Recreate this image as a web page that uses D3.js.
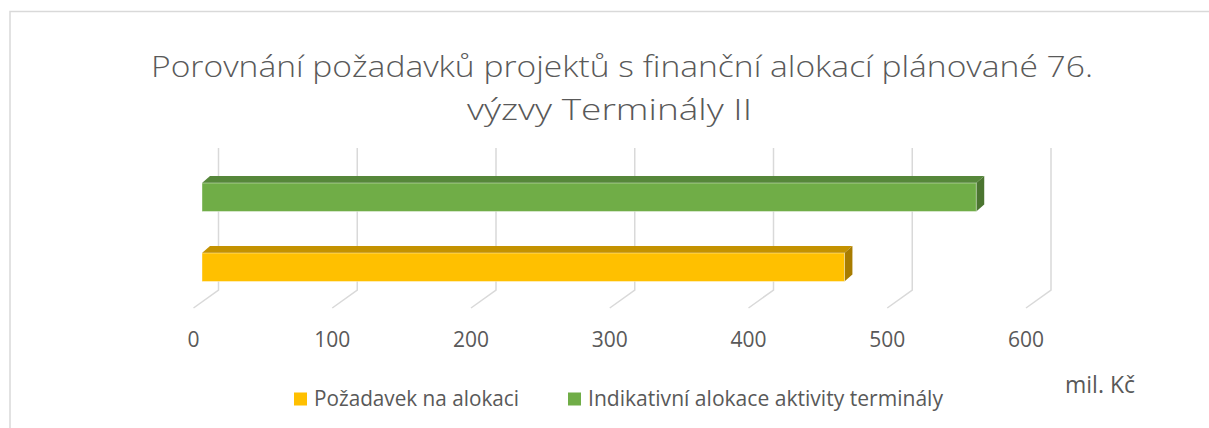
<!DOCTYPE html>
<html>
<head>
<meta charset="utf-8">
<script src="https://cdn.jsdelivr.net/npm/d3@7"></script>
<style>
  body { margin: 0; background: #fff; }
  text { font-family: "Open Sans", sans-serif; fill: #595959; }
</style>
</head>
<body>
<div id="chart"></div>
<script>
// data
var categories = ["Indikativní alokace aktivity terminály", "Požadavek na alokaci"];
var values = [558, 463];
var frontColors = ["#70ad47", "#ffc000"];
var topColors = ["#56873a", "#c49200"];
var sideColors = ["#4b7530", "#a87c00"];
var legendOrder = ["Požadavek na alokaci", "Indikativní alokace aktivity terminály"];
var legendColors = ["#ffc000", "#70ad47"];
var tickValues = [0, 100, 200, 300, 400, 500, 600];
var titleLines = ["Porovnání požadavků projektů s finanční alokací plánované 76.", "výzvy Terminály II"];
var unitLabel = "mil. Kč";

var width = 1209, height = 428;

var svg = d3.select("#chart")
    .append("svg")
    .attr("width", width)
    .attr("height", height);

// chart frame (only top and left edge visible)
svg.append("path")
    .attr("d", "M10,428 L10,11.5 L1209,11.5")
    .attr("fill", "none")
    .attr("stroke", "#d9d9d9")
    .attr("stroke-width", 1.5);

// title
var titleX = [151, 467], titleY = [77, 120], titleLen = [942, 285];
svg.selectAll(".title")
    .data(titleLines)
    .enter().append("text")
    .attr("class", "title")
    .attr("x", function (d, i) { return titleX[i]; })
    .attr("y", function (d, i) { return titleY[i]; })
    .attr("textLength", function (d, i) { return titleLen[i]; })
    .attr("lengthAdjust", "spacingAndGlyphs")
    .style("font-size", "29px")
    .style("font-weight", 300)
    .text(function (d) { return d; });

// 3D look: back wall x scale, floor goes 25px left / 18px down
var x = d3.scaleLinear().domain([0, 600]).range([218.5, 1051]);
var wallTop = 148, wallBottom = 290;
var floorDx = -25, floorDy = 18;

var y = d3.scaleBand()
    .domain(categories)
    .range([141, 323.5])
    .paddingInner(0.593)
    .paddingOuter(0.6);

// gridlines
svg.selectAll(".grid")
    .data(tickValues)
    .enter().append("path")
    .attr("class", "grid")
    .attr("fill", "none")
    .attr("stroke", "#d9d9d9")
    .attr("stroke-width", 1.5)
    .attr("d", function (d) {
        return "M" + x(d) + "," + wallTop + " L" + x(d) + "," + wallBottom +
            " L" + (x(d) + floorDx) + "," + (wallBottom + floorDy);
    });

// tick labels on the front edge
svg.selectAll(".tick-label")
    .data(tickValues)
    .enter().append("text")
    .attr("class", "tick-label")
    .attr("x", function (d) { return x(d) + floorDx; })
    .attr("y", 347)
    .attr("text-anchor", "middle")
    .style("font-size", "21px")
    .text(function (d) { return d; });

// bars: front face, top face, side face
var barShift = -16.5, depthX = 8, depthY = -7;
var bars = svg.selectAll(".bar")
    .data(values)
    .enter().append("g")
    .attr("class", "bar");

function pts(arr) { return arr.map(function (p) { return p.join(","); }).join(" "); }

bars.append("polygon")
    .attr("fill", function (d, i) { return topColors[i]; })
    .attr("points", function (d, i) {
        var x0 = x(0) + barShift, x1 = x(d) + barShift, yt = y(categories[i]);
        return pts([[x0, yt], [x0 + depthX, yt + depthY], [x1 + depthX, yt + depthY], [x1, yt]]);
    });

bars.append("polygon")
    .attr("fill", function (d, i) { return sideColors[i]; })
    .attr("points", function (d, i) {
        var x1 = x(d) + barShift, yt = y(categories[i]), yb = yt + y.bandwidth();
        return pts([[x1, yt], [x1 + depthX, yt + depthY], [x1 + depthX, yb + depthY], [x1, yb]]);
    });

bars.append("rect")
    .attr("x", x(0) + barShift)
    .attr("y", function (d, i) { return y(categories[i]); })
    .attr("width", function (d) { return x(d) - x(0); })
    .attr("height", y.bandwidth())
    .attr("fill", function (d, i) { return frontColors[i]; })
    .attr("stroke", "rgba(255,255,255,0.5)")
    .attr("stroke-width", 0.8);

// legend
var legendX = [294, 568], legendLen = [205, 355];
var legend = svg.selectAll(".legend")
    .data(legendOrder)
    .enter().append("g")
    .attr("class", "legend");

legend.append("rect")
    .attr("x", function (d, i) { return legendX[i]; })
    .attr("y", 392.5)
    .attr("width", 13)
    .attr("height", 13)
    .attr("fill", function (d, i) { return legendColors[i]; });

legend.append("text")
    .attr("x", function (d, i) { return legendX[i] + 20; })
    .attr("y", 405.5)
    .attr("textLength", function (d, i) { return legendLen[i]; })
    .attr("lengthAdjust", "spacingAndGlyphs")
    .style("font-size", "21px")
    .text(function (d) { return d; });

// unit label
svg.append("text")
    .attr("x", 1065)
    .attr("y", 393)
    .attr("textLength", 70)
    .attr("lengthAdjust", "spacingAndGlyphs")
    .style("font-size", "23px")
    .text(unitLabel);
</script>
</body>
</html>
